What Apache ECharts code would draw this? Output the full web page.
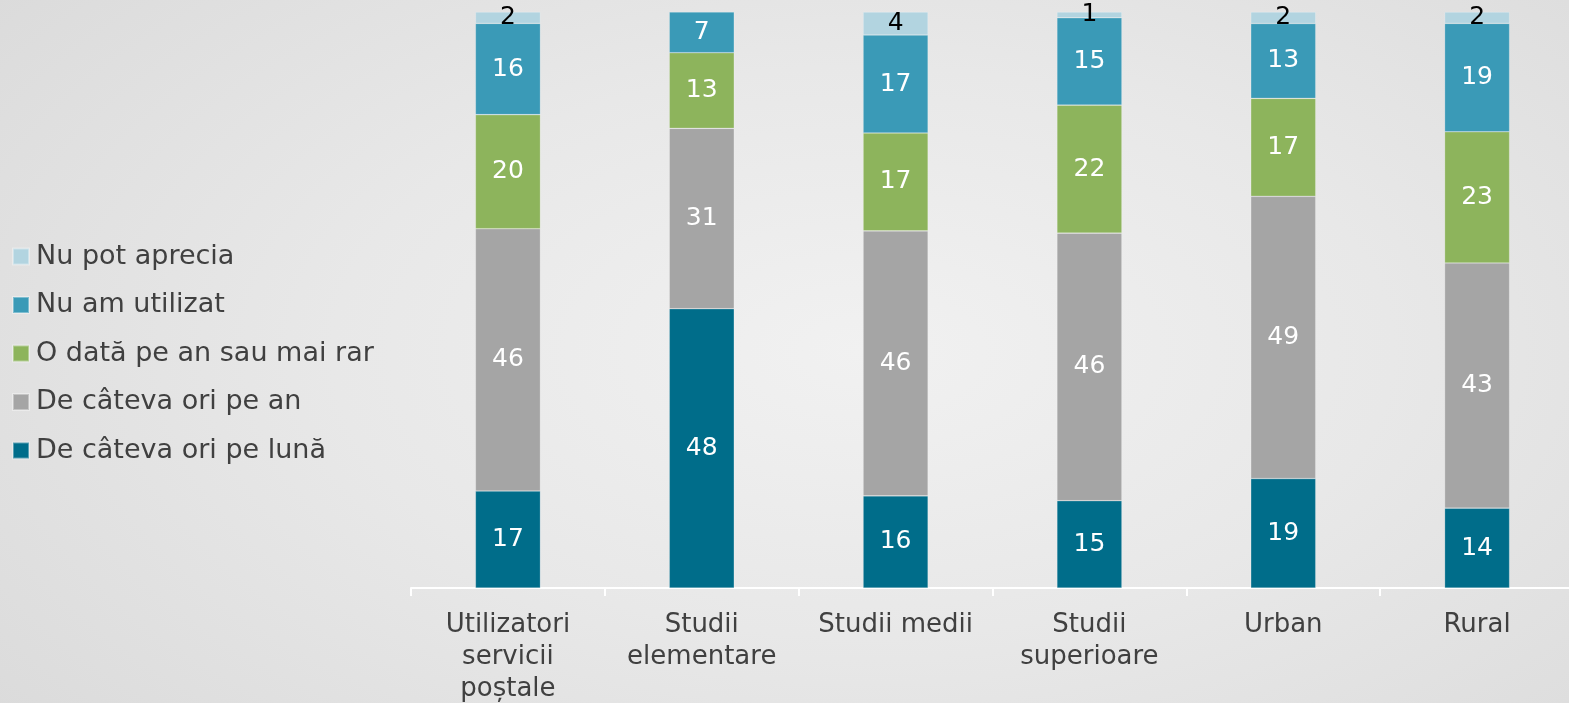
<!DOCTYPE html>
<html lang="ro">
<head>
    <meta charset="UTF-8">
    <title>Frecventa utilizare</title>
    <script src="https://cdn.jsdelivr.net/npm/echarts@6/dist/echarts.min.js"></script>
    <style>
        html, body { margin: 0; padding: 0; overflow: hidden; }
        #main {
            width: 1569px; height: 703px;
            background: radial-gradient(ellipse 75% 90% at 55% 50%, #f1f1f1 0%, #e8e8e8 45%, #d9d9d9 100%);
        }
    </style>
</head>
<body>
    <div id="main"></div>
    <script type="text/javascript">

        var categorii = ['Utilizatori\nservicii\npoștale', 'Studii\nelementare', 'Studii medii',
            'Studii\nsuperioare', 'Urban', 'Rural'];

        // de jos in sus
        var lunar = [17, 48, 16, 15, 19, 14];
        var anual = [46, 31, 46, 46, 49, 43];
        var rar = [20, 13, 17, 22, 17, 23];
        var neutilizat = [16, 7, 17, 15, 13, 19];
        var nuApreciaza = [2, null, 4, 1, 2, 2];

        var serii = [
            { name: 'De câteva ori pe lună', values: lunar, color: '#006d8a', label: '#ffffff' },
            { name: 'De câteva ori pe an', values: anual, color: '#a5a5a5', label: '#ffffff' },
            { name: 'O dată pe an sau mai rar', values: rar, color: '#8db45c', label: '#ffffff' },
            { name: 'Nu am utilizat', values: neutilizat, color: '#3a9ab7', label: '#ffffff' },
            { name: 'Nu pot aprecia', values: nuApreciaza, color: '#b2d4e0', label: '#000000' }
        ];

        // totaluri pe coloana (bare 100%)
        var totaluri = categorii.map(function (c, i) {
            var s = 0;
            serii.forEach(function (sr) { if (sr.values[i] != null) s += sr.values[i]; });
            return s;
        });

        var font = 'DejaVu Sans, Verdana, sans-serif';

        var chartDom = document.getElementById('main');
        var myChart = echarts.init(chartDom, null, { renderer: 'canvas' });

        var seriesList = serii.map(function (sr) {
            return {
                name: sr.name,
                type: 'bar',
                stack: 'total',
                barWidth: 65,
                itemStyle: { color: sr.color, borderColor: 'rgba(255,255,255,0.35)', borderWidth: 0.6 },
                label: {
                    show: true,
                    position: 'inside',
                    color: sr.label,
                    fontFamily: font,
                    fontSize: 25,
                    formatter: function (p) { return sr.values[p.dataIndex]; }
                },
                data: sr.values.map(function (v, i) {
                    return v == null ? '-' : v / totaluri[i] * 100;
                })
            };
        });

        var option = {
            backgroundColor: 'transparent',
            animation: false,
            legend: {
                orient: 'vertical',
                left: 12,
                top: 243,
                padding: 0,
                itemWidth: 16,
                itemHeight: 16,
                itemGap: 21.5,
                icon: 'rect',
                textStyle: { color: '#404040', fontFamily: font, fontSize: 27, padding: [0, 0, 0, 2] },
                data: ['Nu pot aprecia', 'Nu am utilizat', 'O dată pe an sau mai rar',
                    'De câteva ori pe an', 'De câteva ori pe lună']
            },
            grid: { left: 411, top: 12, width: 1163, height: 576, outerBoundsMode: 'none', containLabel: false },
            xAxis: {
                type: 'category',
                data: categorii,
                axisLine: { lineStyle: { color: '#ffffff', width: 2 } },
                axisTick: { show: true, length: 8, lineStyle: { color: '#ffffff', width: 2 } },
                axisLabel: {
                    color: '#404040',
                    fontFamily: font,
                    fontSize: 26,
                    lineHeight: 32,
                    margin: 21,
                    interval: 0
                }
            },
            yAxis: {
                type: 'value',
                min: 0,
                max: 100,
                show: false,
                splitLine: { show: false }
            },
            series: seriesList
        };

        myChart.setOption(option);

    </script>
</body>
</html>
